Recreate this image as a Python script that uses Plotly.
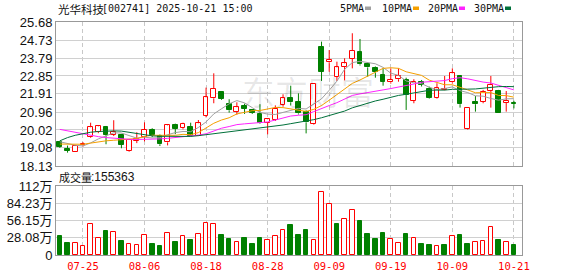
import plotly.graph_objects as go

# ---------------- data ----------------
dates = ["07-22", "07-23", "07-24", "07-25", "07-28", "07-29", "07-30", "07-31",
         "08-01", "08-04", "08-05", "08-06", "08-07", "08-08", "08-11", "08-12", "08-13",
         "08-14", "08-15", "08-18", "08-19", "08-20", "08-21", "08-22", "08-25", "08-26",
         "08-27", "08-28", "08-29",
         "09-01", "09-02", "09-03", "09-04", "09-05", "09-08", "09-09", "09-10", "09-11",
         "09-12", "09-15", "09-16", "09-17", "09-18", "09-19", "09-22", "09-23", "09-24",
         "09-25", "09-26", "09-29", "09-30",
         "10-09", "10-10", "10-13", "10-14", "10-15", "10-16", "10-17", "10-20", "10-21"]

opens = [19.37, 19.04, 18.85, 19.22, 19.64, 19.93, 20.18, 19.78, 19.77, 18.93,
         19.45, 19.64, 20.02, 19.72, 19.37, 20.28, 20.11, 20.17, 19.72, 20.77,
         21.68, 21.99, 21.37, 20.98, 21.29, 21.08, 20.86, 20.40, 20.56, 21.35,
         21.71, 21.50, 20.95, 20.35, 24.37, 23.57, 22.81, 23.34, 23.74, 24.09,
         23.48, 23.28, 22.90, 22.52, 22.68, 22.64, 21.55, 22.52, 22.15, 21.68,
         22.12, 22.52, 22.85, 20.05, 21.49, 21.50, 22.08, 22.07, 21.45, 21.44]
highs = [19.45, 19.20, 19.18, 19.38, 20.40, 20.23, 20.23, 20.53, 19.82, 19.49,
         19.90, 20.42, 20.11, 19.78, 20.30, 20.35, 20.40, 20.40, 20.54, 22.24,
         22.99, 22.00, 21.63, 21.47, 21.40, 21.12, 21.37, 20.62, 21.31, 21.89,
         22.34, 21.94, 21.05, 22.41, 24.65, 24.21, 23.60, 23.78, 25.09, 24.79,
         23.50, 23.35, 23.25, 23.25, 23.25, 22.76, 22.68, 22.64, 22.29, 22.47,
         22.85, 23.25, 22.85, 21.22, 21.80, 22.12, 22.85, 22.12, 22.06, 21.55]
lows = [19.08, 18.83, 18.85, 19.15, 19.60, 19.85, 19.27, 19.70, 19.06, 18.88,
        19.33, 19.42, 19.64, 19.18, 19.21, 19.80, 20.05, 19.68, 19.70, 20.68,
        21.42, 21.60, 20.93, 20.82, 20.86, 20.86, 20.35, 19.79, 20.49, 21.24,
        21.30, 20.83, 19.84, 20.30, 22.59, 23.07, 22.59, 22.62, 23.25, 23.40,
        22.81, 22.76, 22.34, 22.45, 22.55, 21.07, 21.42, 22.30, 21.65, 21.65,
        22.10, 22.45, 21.19, 20.02, 20.98, 21.42, 21.19, 20.93, 20.98, 21.15]
closes = [19.14, 18.93, 19.18, 19.28, 20.16, 20.21, 19.76, 19.93, 19.23, 19.49,
          19.52, 20.02, 19.76, 19.27, 20.26, 20.07, 20.33, 19.72, 20.37, 21.73,
          22.17, 21.65, 21.05, 21.21, 21.12, 20.93, 20.39, 20.58, 21.12, 21.68,
          21.47, 20.89, 20.42, 22.41, 23.07, 23.69, 23.30, 23.51, 24.16, 23.46,
          23.30, 23.04, 22.55, 22.64, 22.85, 21.85, 22.55, 22.38, 21.68, 22.20,
          22.15, 22.99, 21.37, 21.19, 21.37, 22.03, 22.38, 20.93, 21.54, 21.40]

# volume, in 万 (10k shares)
volumes = [30.8, 19.4, 19.4, 14.0, 49.7, 27.0, 38.9, 36.7, 22.7, 17.3,
           15.7, 31.9, 17.8, 14.6, 35.1, 21.1, 30.2, 24.3, 33.5, 52.9,
           49.7, 32.4, 25.4, 20.5, 27.0, 17.8, 27.0, 24.3, 30.2, 40.0,
           48.6, 32.4, 40.5, 24.3, 103.1, 83.7, 50.2, 57.8, 74.0, 55.1,
           34.0, 25.9, 35.6, 25.9, 19.4, 34.6, 27.5, 18.4, 16.2, 14.6,
           16.2, 30.8, 32.9, 18.4, 21.1, 22.7, 45.4, 24.3, 21.1, 15.5363]
last_volume = 155363

ma5 = [19.40, 19.30, 19.22, 19.18, 19.34, 19.55, 19.72, 19.87, 19.86, 19.72,
       19.59, 19.64, 19.60, 19.61, 19.77, 19.88, 19.94, 19.93, 20.15, 20.44,
       20.86, 21.13, 21.39, 21.56, 21.44, 21.19, 20.94, 20.85, 20.83, 20.94,
       21.05, 21.15, 21.12, 21.37, 21.65, 22.10, 22.58, 23.20, 23.55, 23.62,
       23.55, 23.49, 23.30, 23.00, 22.88, 22.59, 22.49, 22.45, 22.26, 22.13,
       22.19, 22.28, 22.08, 21.98, 21.81, 21.79, 21.67, 21.58, 21.65, 21.66]
ma10 = [19.28, 19.27, 19.26, 19.27, 19.33, 19.40, 19.45, 19.48, 19.50, 19.53,
        19.57, 19.68, 19.74, 19.74, 19.75, 19.74, 19.79, 19.77, 19.88, 20.11,
        20.37, 20.54, 20.66, 20.86, 20.94, 21.03, 21.04, 21.12, 21.20, 21.19,
        21.12, 21.05, 20.99, 21.10, 21.30, 21.58, 21.87, 22.16, 22.46, 22.64,
        22.83, 23.04, 23.25, 23.28, 23.25, 23.07, 22.99, 22.88, 22.63, 22.51,
        22.39, 22.39, 22.27, 22.12, 21.97, 21.99, 21.98, 21.83, 21.82, 21.74]
ma20 = [20.05, 19.97, 19.90, 19.82, 19.74, 19.67, 19.62, 19.58, 19.55, 19.53,
        19.52, 19.52, 19.53, 19.55, 19.58, 19.62, 19.66, 19.70, 19.75, 19.82,
        19.97, 20.11, 20.20, 20.30, 20.34, 20.38, 20.41, 20.44, 20.54, 20.65,
        20.75, 20.79, 20.82, 20.98, 21.12, 21.30, 21.45, 21.64, 21.83, 21.91,
        21.97, 22.04, 22.12, 22.19, 22.27, 22.32, 22.43, 22.52, 22.55, 22.57,
        22.61, 22.71, 22.76, 22.70, 22.61, 22.53, 22.48, 22.35, 22.22, 22.12]
ma30 = [19.45, 19.62, 19.74, 19.83, 19.90, 19.94, 19.96, 19.97, 19.96, 19.90,
        19.82, 19.75, 19.71, 19.69, 19.68, 19.67, 19.67, 19.68, 19.72, 19.77,
        19.82, 19.86, 19.91, 19.96, 20.01, 20.06, 20.11, 20.17, 20.22, 20.28,
        20.35, 20.42, 20.46, 20.56, 20.66, 20.78, 20.90, 21.01, 21.18, 21.31,
        21.44, 21.54, 21.63, 21.74, 21.83, 21.89, 21.96, 22.05, 22.10, 22.11,
        22.11, 22.15, 22.17, 22.16, 22.17, 22.21, 22.28, 22.29, 22.30, 22.29]

tick_dates = ["07-25", "08-06", "08-18", "08-28", "09-09", "09-19", "10-09", "10-21"]
price_ticks = [25.68, 24.73, 23.79, 22.85, 21.91, 20.96, 20.02, 19.08, 18.13]
vol_ticks = [0, 28.08, 56.15, 84.23, 112.3]
vol_tick_text = ["0", "28.08万", "56.15万", "84.23万", "112万"]

stock_title = "光华科技"
stock_sub = "[002741] 2025-10-21 15:00"
ma_names = ["5PMA", "10PMA", "20PMA", "30PMA"]

# ---------------- style ----------------
RED = "#ff0000"
GREEN = "#008000"
MA_COLORS = ["#a0a0a0", "#f5a000", "#ff22ff", "#00703a"]
W, H = 578, 276
L, R, T, B = 56, 522, 22, 255


def px(x):
    return (x - L) / (R - L)


def py(y):
    return (B - y) / (B - T)


idx = list(range(len(dates)))
tick_idx = [dates.index(d) for d in tick_dates]

fig = go.Figure()

# wicks (vertical segments above/below the body)
for up in (True, False):
    xs, ys = [], []
    for i, o, h, l, c in zip(idx, opens, highs, lows, closes):
        if (c >= o) != up:
            continue
        top, bot = max(o, c), min(o, c)
        xs += [i, i, None, i, i, None]
        ys += [h, top, None, bot, l, None]
    fig.add_trace(go.Scatter(x=xs, y=ys, mode="lines", xaxis="x", yaxis="y",
                             line=dict(color=RED if up else GREEN, width=1),
                             hoverinfo="skip", showlegend=False))

# candle bodies
for up in (True, False):
    bx, bb, bh = [], [], []
    for i, o, c in zip(idx, opens, closes):
        if (c >= o) != up:
            continue
        bx.append(i)
        bb.append(min(o, c))
        bh.append(max(abs(c - o), 0.03))
    fig.add_trace(go.Bar(x=bx, y=bh, base=bb, width=0.62, xaxis="x", yaxis="y",
                         marker=dict(color="white" if up else GREEN,
                                     line=dict(color=RED if up else GREEN, width=1)),
                         showlegend=False, hoverinfo="skip"))

# moving averages
for name, vals, col in zip(ma_names, [ma5, ma10, ma20, ma30], MA_COLORS):
    fig.add_trace(go.Scatter(x=idx, y=vals, mode="lines", xaxis="x", yaxis="y",
                             line=dict(color=col, width=1), name=name,
                             showlegend=False, hoverinfo="skip"))

# volume bars: colour by close vs previous close
vup_x, vup_y, vdn_x, vdn_y = [], [], [], []
for i, v in zip(idx, volumes):
    ref = closes[i - 1] if i > 0 else opens[i]
    if closes[i] >= ref:
        vup_x.append(i); vup_y.append(v)
    else:
        vdn_x.append(i); vdn_y.append(v)
fig.add_trace(go.Bar(x=vup_x, y=vup_y, width=0.6, xaxis="x2", yaxis="y2",
                     marker=dict(color="white", line=dict(color=RED, width=1)),
                     showlegend=False, hoverinfo="skip"))
fig.add_trace(go.Bar(x=vdn_x, y=vdn_y, width=0.6, xaxis="x2", yaxis="y2",
                     marker=dict(color=GREEN, line=dict(color=GREEN, width=1)),
                     showlegend=False, hoverinfo="skip"))

axis_font = dict(family="Liberation Sans, Arial, Noto Sans CJK SC", size=13, color="#111")
xcommon = dict(type="linear", range=[-0.5, len(dates) + 0.05], tickmode="array",
               tickvals=tick_idx, ticktext=tick_dates, tickangle=0, showgrid=True,
               gridcolor="#c8c8c8", griddash="4px,3px", gridwidth=1, zeroline=False,
               showline=True, mirror=True, linecolor="#999", linewidth=1, ticks="",
               fixedrange=True, automargin=False)
ycommon = dict(showgrid=True, gridcolor="#d0d0d0", gridwidth=1, zeroline=False,
               showline=True, mirror=True, linecolor="#999", linewidth=1,
               ticks="", tickfont=axis_font, fixedrange=True, automargin=False,
               tickmode="array")

fig.update_layout(
    width=W, height=H, autosize=False,
    margin=dict(l=L, r=W - R, t=T, b=H - B, autoexpand=False),
    paper_bgcolor="white", plot_bgcolor="white",
    barmode="overlay", bargap=0, showlegend=False,
    xaxis=dict(xcommon, anchor="y", domain=[0, 1], showticklabels=False),
    xaxis2=dict(xcommon, anchor="y2", domain=[0, 1], matches="x", showticklabels=True,
                ticklabelstandoff=1,
                tickfont=dict(family="DejaVu Sans Mono, Liberation Mono, monospace",
                              size=10.5, color=RED)),
    yaxis=dict(ycommon, domain=[py(166), 1], range=[price_ticks[-1], price_ticks[0]],
               tickvals=price_ticks, ticktext=["%.2f" % t for t in price_ticks]),
    yaxis2=dict(ycommon, domain=[0, py(186)], range=[0, vol_ticks[-1]],
                tickvals=vol_ticks, ticktext=vol_tick_text),
)

ann = []
# watermark
ann.append(dict(text="东方财富", x=px(308), y=py(91), xref="paper", yref="paper",
                showarrow=False, xanchor="center", yanchor="middle",
                font=dict(family="Noto Sans CJK SC", size=33, color="rgba(0,0,0,0.09)")))
# title
ann.append(dict(text=stock_title, x=px(56), y=py(9), xref="paper", yref="paper",
                showarrow=False, xanchor="left", yanchor="middle",
                font=dict(family="Noto Sans CJK SC", size=11.5, color="#111")))
ann.append(dict(text=stock_sub, x=px(100), y=py(9), xref="paper", yref="paper",
                showarrow=False, xanchor="left", yanchor="middle",
                font=dict(family="DejaVu Sans Mono, monospace", size=10, color="#111")))
# volume label
ann.append(dict(text="成交量", x=px(57), y=py(177), xref="paper", yref="paper",
                showarrow=False, xanchor="left", yanchor="middle",
                font=dict(family="Noto Sans CJK SC", size=11, color="#111")))
ann.append(dict(text=":" + str(last_volume), x=px(89), y=py(177), xref="paper", yref="paper",
                showarrow=False, xanchor="left", yanchor="middle",
                font=dict(family="Liberation Sans, Arial", size=12, color="#111")))

# legend
legend_x = [338, 380, 426, 472]
rect_x = [365, 413, 459, 505]
shapes = []
for name, lx, rx, col in zip(ma_names, legend_x, rect_x, MA_COLORS):
    ann.append(dict(text=name, x=px(lx), y=py(8.5), xref="paper", yref="paper",
                    showarrow=False, xanchor="left", yanchor="middle",
                    font=dict(family="DejaVu Sans Mono, monospace", size=10, color="#111")))
    shapes.append(dict(type="rect", xref="paper", yref="paper",
                       x0=px(rx), x1=px(rx + 6), y0=py(10), y1=py(6.5),
                       fillcolor=col, line=dict(width=0)))

fig.update_layout(annotations=ann, shapes=shapes)

fig.write_html("out.html", config={"displayModeBar": False})
